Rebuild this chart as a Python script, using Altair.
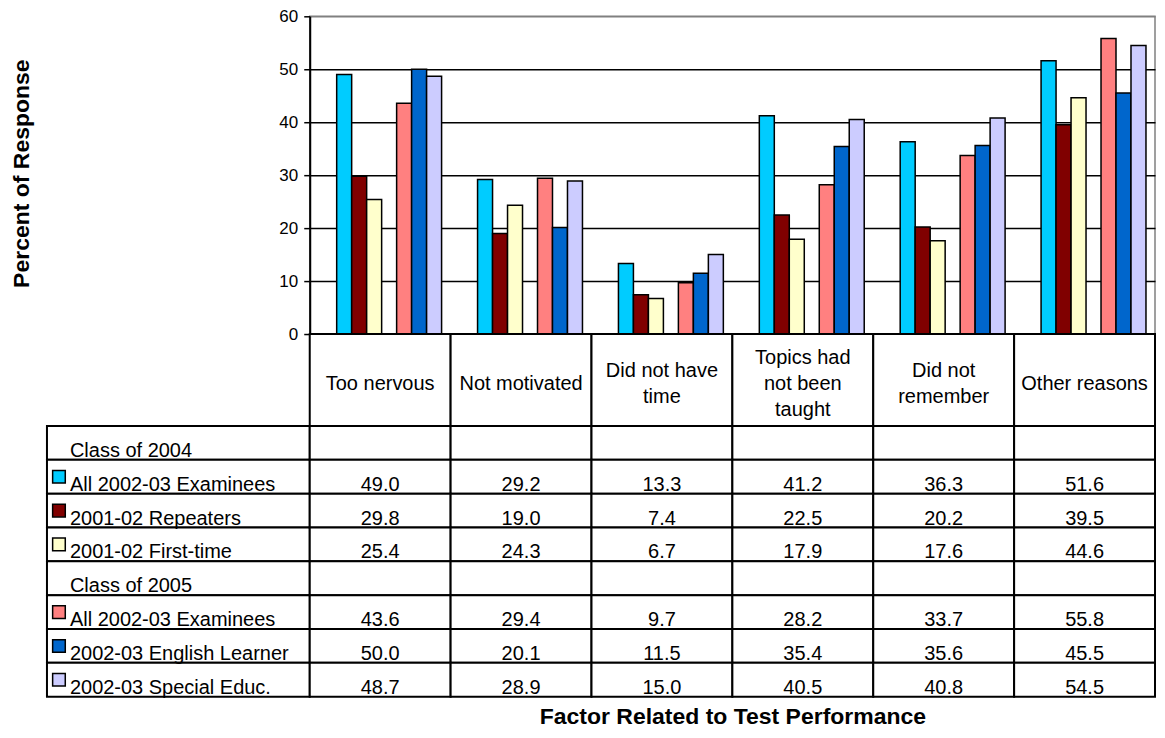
import altair as alt
import pandas as pd

FONT = "Liberation Sans"

# ---------------- data ----------------
categories = ["Too nervous", "Not motivated", "Did not have time",
              "Topics had not been taught", "Did not remember", "Other reasons"]
header_lines = [["Too nervous"], ["Not motivated"], ["Did not have", "time"],
                ["Topics had", "not been", "taught"], ["Did not", "remember"], ["Other reasons"]]

group_labels = ["Class of 2004", "Class of 2005"]
series_keys = ["c04_all", "c04_rep", "c04_first", "c05_all", "c05_el", "c05_se"]
series_labels = ["All 2002-03 Examinees", "2001-02 Repeaters", "2001-02 First-time",
                 "All 2002-03 Examinees", "2002-03 English Learner", "2002-03 Special Educ."]
series_colors = ["#00CCFF", "#800000", "#FFFFCC", "#FF8080", "#0066CC", "#CCCCFF"]

c04_all = [49.0, 29.2, 13.3, 41.2, 36.3, 51.6]
c04_rep = [29.8, 19.0, 7.4, 22.5, 20.2, 39.5]
c04_first = [25.4, 24.3, 6.7, 17.9, 17.6, 44.6]
c05_all = [43.6, 29.4, 9.7, 28.2, 33.7, 55.8]
c05_el = [50.0, 20.1, 11.5, 35.4, 35.6, 45.5]
c05_se = [48.7, 28.9, 15.0, 40.5, 40.8, 54.5]
series_values = [c04_all, c04_rep, c04_first, c05_all, c05_el, c05_se]

y_ticks = [0, 10, 20, 30, 40, 50, 60]

# ---------------- tables ----------------
row_keys = ["g04"] + series_keys[:3] + ["g05"] + series_keys[3:]
row_labels = [group_labels[0]] + series_labels[:3] + [group_labels[1]] + series_labels[3:]
slots = ["lead"] + series_keys[:3] + ["gap"] + series_keys[3:]

bar_df = pd.DataFrame([
    {"cat": c, "key": k, "value": v}
    for k, vals in zip(series_keys, series_values)
    for c, v in zip(categories, vals)
])
label_df = pd.DataFrame({"row": row_keys, "label": row_labels})
square_df = pd.DataFrame({"row": series_keys, "key": series_keys})
cell_df = pd.DataFrame([{"row": r, "cat": c} for r in row_keys for c in categories])
value_df = bar_df.rename(columns={"key": "row"})
header_cells = pd.DataFrame({"cat": categories})
header_df = pd.DataFrame([
    {"cat": c, "line": t, "idx": i, "n": len(lines)}
    for c, lines in zip(categories, header_lines)
    for i, t in enumerate(lines)
])

cat_scale = alt.Scale(domain=categories, paddingInner=0, paddingOuter=0)
row_scale = alt.Scale(domain=row_keys, paddingInner=0, paddingOuter=0)
color_scale = alt.Scale(domain=series_keys, range=series_colors)

W_LEFT, W_MAIN = 263, 846
H_BARS, H_HEAD, H_BODY = 318, 92, 271
LINE_H = 26.5
TABLE_FS = 20

# ---------------- bar chart ----------------
bars = alt.Chart(bar_df).mark_bar(stroke="black", strokeWidth=1.5).encode(
    x=alt.X("cat:N", scale=cat_scale, axis=None),
    xOffset=alt.XOffset("key:N", scale=alt.Scale(domain=slots, paddingInner=0,
                                                 paddingOuter=0.7, align=0.57)),
    y=alt.Y("value:Q", scale=alt.Scale(domain=[0, 60], nice=False),
            axis=alt.Axis(values=y_ticks, grid=True,
                          gridColor=alt.condition("datum.value >= 60", alt.value("#808080"), alt.value("black")),
                          gridWidth=1.5, domainColor="black", domainWidth=2,
                          tickColor="black", tickSize=6, tickWidth=1.5,
                          labelFontSize=17, labelColor="black", labelFont=FONT, labelPadding=6,
                          title="Percent of Response", titleFont=FONT, titleFontSize=23,
                          titleFontWeight="bold", titleColor="black",
                          titleX=-288, titleY=157, titleAngle=270,
                          titleAlign="center", titleBaseline="middle")),
    color=alt.Color("key:N", scale=color_scale, legend=None),
).properties(width=W_MAIN, height=H_BARS,
             view=alt.ViewBackground(stroke="#808080", strokeWidth=1.5))


def blank(w, h):
    return alt.Chart(pd.DataFrame({"v": [0]})).mark_point(opacity=0).encode(
        x=alt.X("v:Q", axis=None), y=alt.Y("v:Q", axis=None)
    ).properties(width=w, height=h, view=alt.ViewBackground(stroke="transparent"))


# ---------------- header row ----------------
half = H_HEAD / LINE_H / 2
header_rect = alt.Chart(header_cells).mark_rect(fill="white", stroke="black", strokeWidth=2).encode(
    x=alt.X("cat:N", scale=cat_scale, axis=None))
header_txt = alt.Chart(header_df).transform_calculate(
    off="datum.idx - (datum.n - 1) / 2"
).mark_text(fontSize=TABLE_FS, font=FONT, color="black", baseline="middle", dy=4).encode(
    x=alt.X("cat:N", scale=cat_scale, axis=None),
    y=alt.Y("off:Q", scale=alt.Scale(domain=[half, -half], nice=False, zero=False), axis=None),
    text="line:N")
header = alt.layer(header_rect, header_txt).properties(width=W_MAIN, height=H_HEAD)

# ---------------- label column ----------------
label_rect = alt.Chart(label_df).mark_rect(fill="white", stroke="black", strokeWidth=2).encode(
    y=alt.Y("row:N", scale=row_scale, axis=None))
label_txt = alt.Chart(label_df).mark_text(
    align="left", baseline="alphabetic", dy=14, fontSize=TABLE_FS, font=FONT, color="black"
).encode(y=alt.Y("row:N", scale=row_scale, axis=None), x=alt.value(23), text="label:N")
label_sq = alt.Chart(square_df).mark_point(
    shape="square", filled=True, size=160, stroke="black", strokeWidth=1.5, opacity=1
).encode(y=alt.Y("row:N", scale=row_scale, axis=None), x=alt.value(12),
         fill=alt.Fill("key:N", scale=color_scale, legend=None))
labels = alt.layer(label_rect, label_sq, label_txt).properties(width=W_LEFT, height=H_BODY)

# ---------------- value table ----------------
x_axis = alt.Axis(labels=False, ticks=False, domain=False, grid=False,
                  title="Factor Related to Test Performance", titleFont=FONT,
                  titleFontSize=23, titleFontWeight="bold", titleColor="black",
                  titlePadding=9)
body_rect = alt.Chart(cell_df).mark_rect(fill="white", stroke="black", strokeWidth=2).encode(
    x=alt.X("cat:N", scale=cat_scale, axis=x_axis),
    y=alt.Y("row:N", scale=row_scale, axis=None))
body_txt = alt.Chart(value_df).mark_text(
    baseline="alphabetic", dy=14, fontSize=TABLE_FS, font=FONT, color="black"
).encode(x=alt.X("cat:N", scale=cat_scale, axis=x_axis),
         y=alt.Y("row:N", scale=row_scale, axis=None),
         text=alt.Text("value:Q", format=".1f"))
body = alt.layer(body_rect, body_txt).properties(width=W_MAIN, height=H_BODY)

chart = alt.concat(
    blank(W_LEFT, H_BARS), bars,
    blank(W_LEFT, H_HEAD), header,
    labels, body,
    columns=2, spacing=0, bounds="flush", align="each",
).properties(padding={"left": 2, "top": -2, "right": 0, "bottom": 0}
).configure(font=FONT, view=alt.ViewConfig(stroke="transparent"))

chart.save("out.html", embed_options={"renderer": "svg", "actions": False})
